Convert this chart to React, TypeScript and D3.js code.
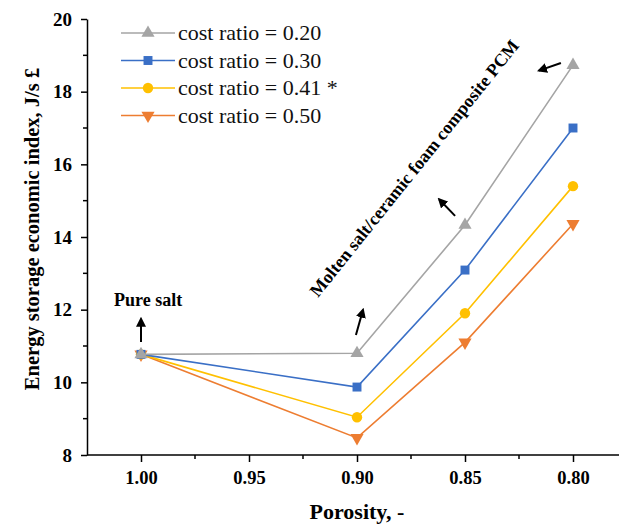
import { useRef, useEffect } from "react";
import * as d3 from "d3";

// porosity (x) and economic index for each cost ratio
const porosity = [1.0, 0.9, 0.85, 0.8];
const ratio020 = [10.77, 10.8, 14.33, 18.73];
const ratio030 = [10.77, 9.87, 13.09, 17.0];
const ratio041 = [10.77, 9.04, 11.9, 15.4];
const ratio050 = [10.77, 8.47, 11.1, 14.36];

const seriesNames = ["cost ratio = 0.20", "cost ratio = 0.30", "cost ratio = 0.41 *", "cost ratio = 0.50"];
const seriesColors = ["#a5a5a5", "#3a6fc6", "#ffc000", "#ed7d31"];
const seriesSymbols = ["triangle", "square", "circle", "triangleDown"];

const xTicks = [1.0, 0.95, 0.9, 0.85, 0.8];
const yTicks = [8, 10, 12, 14, 16, 18, 20];

const FONT = "Liberation Serif";

function App() {
  const svgRef = useRef(null);

  useEffect(() => {
    const svg = d3.select(svgRef.current);
    svg.selectAll("*").remove();

    const width = 619;
    const height = 525;
    const left = 87;
    const bottom = 455;

    const x = d3.scaleLinear().domain([1.025, 0.775]).range([left, 627]);
    const y = d3.scaleLinear().domain([8, 20]).range([bottom, 19]);

    svg.attr("width", width).attr("height", height).attr("font-family", FONT);

    // x axis
    const xAxis = d3
      .axisBottom(x)
      .tickValues(xTicks)
      .tickFormat(d3.format(".2f"))
      .tickSize(7)
      .tickSizeOuter(0)
      .tickPadding(9);
    const gx = svg.append("g").attr("transform", `translate(0,${bottom})`).call(xAxis).attr("font-family", FONT);
    gx.select(".domain").attr("stroke", "#000").attr("stroke-width", 1.5).attr("d", `M${left},0H${width}`);
    gx.selectAll(".tick line").attr("stroke-width", 1.5);
    gx.selectAll(".tick text")
      .attr("font-size", 18.5)
      .attr("font-weight", "bold")
      .attr("fill", "#000");
    // minor x ticks
    gx.selectAll(".minor")
      .data([0.975, 0.925, 0.875, 0.825])
      .join("line")
      .attr("x1", (d) => x(d))
      .attr("x2", (d) => x(d))
      .attr("y1", 0)
      .attr("y2", 4)
      .attr("stroke", "#000")
      .attr("stroke-width", 1.5);

    // y axis
    const yAxis = d3.axisLeft(y).tickValues(yTicks).tickSize(6).tickSizeOuter(0).tickPadding(9);
    const gy = svg.append("g").attr("transform", `translate(${left},0)`).call(yAxis).attr("font-family", FONT);
    gy.select(".domain").attr("stroke", "#000").attr("stroke-width", 1.5);
    gy.selectAll(".tick line").attr("stroke-width", 1.5);
    gy.selectAll(".tick text")
      .attr("font-size", 19)
      .attr("font-weight", "bold")
      .attr("fill", "#000");
    gy.selectAll(".minor")
      .data([9, 11, 13, 15, 17, 19])
      .join("line")
      .attr("x1", 0)
      .attr("x2", -4)
      .attr("y1", (d) => y(d))
      .attr("y2", (d) => y(d))
      .attr("stroke", "#000")
      .attr("stroke-width", 1.5);

    // axis titles
    svg
      .append("text")
      .attr("x", 357)
      .attr("y", 519)
      .attr("text-anchor", "middle")
      .attr("font-size", 22)
      .attr("font-weight", "bold")
      .text("Porosity, -");

    svg
      .append("text")
      .attr("transform", `translate(39,229) rotate(-90)`)
      .attr("text-anchor", "middle")
      .attr("font-size", 20.5)
      .attr("font-weight", "bold")
      .text("Energy storage economic index, J/s £");

    const symbolType = {
      triangle: d3.symbolTriangle,
      square: d3.symbolSquare,
      circle: d3.symbolCircle,
      triangleDown: d3.symbolTriangle,
    };
    const symbolSize = { triangle: 75, square: 80, circle: 85, triangleDown: 75 };

    const drawSymbol = (g, kind, color, cx, cy) => {
      g.append("path")
        .attr("d", d3.symbol().type(symbolType[kind]).size(symbolSize[kind])())
        .attr("transform", `translate(${cx},${cy})` + (kind === "triangleDown" ? " rotate(180)" : ""))
        .attr("fill", color);
    };

    const allSeries = [ratio020, ratio030, ratio041, ratio050];
    const line = d3
      .line()
      .x((d) => x(d[0]))
      .y((d) => y(d[1]));

    // draw in reverse so the grey series sits on top at 1.00 like the original
    allSeries
      .map((vals, i) => ({ vals, i }))
      .reverse()
      .forEach(({ vals, i }) => {
        const pts = porosity.map((p, k) => [p, vals[k]]);
        const g = svg.append("g");
        g.append("path")
          .attr("d", line(pts))
          .attr("fill", "none")
          .attr("stroke", seriesColors[i])
          .attr("stroke-width", 1.6);
        pts.forEach((p) => drawSymbol(g, seriesSymbols[i], seriesColors[i], x(p[0]), y(p[1])));
      });

    // legend
    const legend = svg.append("g");
    seriesNames.forEach((name, i) => {
      const ly = 33 + i * 27.5;
      legend
        .append("line")
        .attr("x1", 121)
        .attr("x2", 175)
        .attr("y1", ly)
        .attr("y2", ly)
        .attr("stroke", seriesColors[i])
        .attr("stroke-width", 1.6);
      drawSymbol(legend, seriesSymbols[i], seriesColors[i], 148, ly);
      legend
        .append("text")
        .attr("x", 178)
        .attr("y", ly + 7)
        .attr("font-size", 22)
        .attr("fill", "#111")
        .text(name);
    });

    // annotations
    const arrowHead = svg
      .append("defs")
      .append("marker")
      .attr("id", "arrowHead")
      .attr("viewBox", "0 0 10 10")
      .attr("refX", 8)
      .attr("refY", 5)
      .attr("markerWidth", 5)
      .attr("markerHeight", 5)
      .attr("orient", "auto");
    arrowHead.append("path").attr("d", "M0,0L10,5L0,10Z").attr("fill", "#000");

    const arrows = [
      [1.0, 11.11, 1.0, 11.75],
      [0.9005, 11.3, 0.8972, 12.0],
      [0.8546, 14.58, 0.862, 15.04],
      [0.8056, 18.79, 0.8158, 18.58],
    ];
    arrows.forEach(([x1, y1, x2, y2]) => {
      svg
        .append("line")
        .attr("x1", x(x1))
        .attr("y1", y(y1))
        .attr("x2", x(x2))
        .attr("y2", y(y2))
        .attr("stroke", "#000")
        .attr("stroke-width", 2)
        .attr("marker-end", "url(#arrowHead)");
    });

    svg
      .append("text")
      .attr("x", x(0.9967))
      .attr("y", y(12.1))
      .attr("text-anchor", "middle")
      .attr("font-size", 18)
      .attr("font-weight", "bold")
      .text("Pure salt");

    svg
      .append("text")
      .attr("transform", `translate(${x(0.8713)},${y(15.79)}) rotate(-51.3)`)
      .attr("text-anchor", "middle")
      .attr("font-size", 18)
      .attr("font-weight", "bold")
      .text("Molten salt/ceramic foam composite PCM");
  }, []);

  return (
    <div style={{ position: "absolute", left: 0, top: 0, background: "#fff" }}>
      <svg ref={svgRef}></svg>
    </div>
  );
}

export default App;
